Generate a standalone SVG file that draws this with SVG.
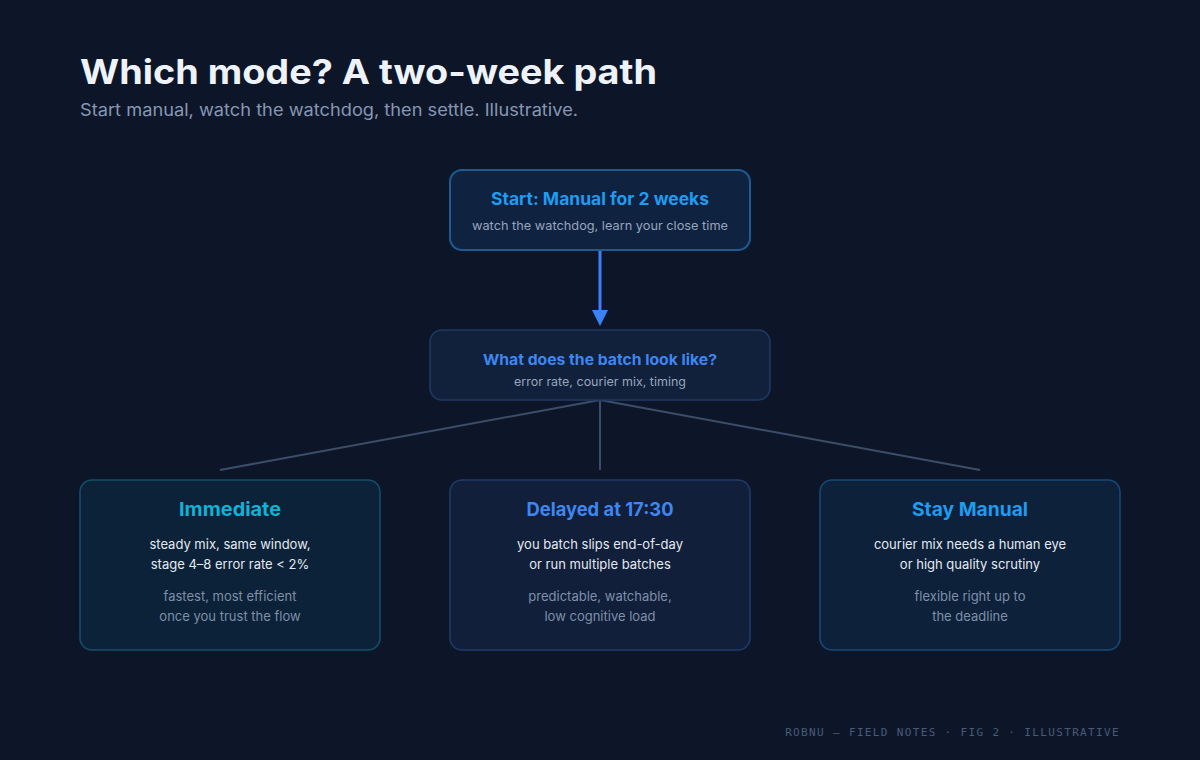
<svg xmlns="http://www.w3.org/2000/svg" width="1200" height="760" viewBox="0 0 1200 760">
<defs>
<style>
.t{font-family:Inter,"Noto Sans","Liberation Sans",sans-serif}
.h{font-weight:700;text-anchor:middle}
.s{font-size:12px;fill:#97a6bd;text-anchor:middle}
.b{font-size:13px;fill:#e3e9f2;text-anchor:middle}
.m{font-size:13px;fill:#7f8fa8;text-anchor:middle}
.edge{stroke:#3b4d69;stroke-width:2;fill:none}
</style>
</defs>
<rect width="1200" height="760" fill="#0d1628"/>
<text class="t" x="80" y="84" font-size="34" font-weight="700" fill="#eef3fb" textLength="577" lengthAdjust="spacingAndGlyphs">Which mode? A two-week path</text>
<text class="t" x="80" y="116" font-size="17" fill="#8797b3" textLength="498" lengthAdjust="spacingAndGlyphs">Start manual, watch the watchdog, then settle. Illustrative.</text>

<g id="connectors">
<line x1="600" y1="250" x2="600" y2="312" stroke="#3b82f6" stroke-width="3"/>
<path d="M592,310 L608,310 L600,326 Z" fill="#3b82f6"/>
<line class="edge" x1="600" y1="400" x2="220" y2="470"/>
<line class="edge" x1="600" y1="400" x2="600" y2="470"/>
<line class="edge" x1="600" y1="400" x2="980" y2="470"/>
</g>

<g id="start">
<rect x="450" y="170" width="300" height="80" rx="12" fill="#0f2240" stroke="#1d5b92" stroke-width="2"/>
<text class="t h" x="600" y="205" font-size="17" fill="#1f9bf0" textLength="218" lengthAdjust="spacingAndGlyphs">Start: Manual for 2 weeks</text>
<text class="t s" x="600" y="230" textLength="256" lengthAdjust="spacingAndGlyphs">watch the watchdog, learn your close time</text>
</g>

<g id="decision">
<rect x="430" y="330" width="340" height="70" rx="12" fill="#11203b" stroke="#1f3a66" stroke-width="1.5"/>
<text class="t h" x="600" y="365" font-size="15" fill="#3e86f0" textLength="234" lengthAdjust="spacingAndGlyphs">What does the batch look like?</text>
<text class="t s" x="600" y="386" textLength="172" lengthAdjust="spacingAndGlyphs">error rate, courier mix, timing</text>
</g>

<g id="immediate">
<rect x="80" y="480" width="300" height="170" rx="12" fill="#0c2238" stroke="#13506e" stroke-width="1.5"/>
<text class="t h" x="230" y="516" font-size="19" fill="#0fb3d6" textLength="102" lengthAdjust="spacingAndGlyphs">Immediate</text>
<text class="t b" x="230" y="549">steady mix, same window,</text>
<text class="t b" x="230" y="569">stage 4–8 error rate &lt; 2%</text>
<text class="t m" x="230" y="601">fastest, most efficient</text>
<text class="t m" x="230" y="621">once you trust the flow</text>
</g>

<g id="delayed">
<rect x="450" y="480" width="300" height="170" rx="12" fill="#111f3a" stroke="#1f3b6b" stroke-width="1.5"/>
<text class="t h" x="600" y="516" font-size="19" fill="#3e86f0" textLength="147" lengthAdjust="spacingAndGlyphs">Delayed at 17:30</text>
<text class="t b" x="600" y="549">you batch slips end-of-day</text>
<text class="t b" x="600" y="569">or run multiple batches</text>
<text class="t m" x="600" y="601">predictable, watchable,</text>
<text class="t m" x="600" y="621">low cognitive load</text>
</g>

<g id="manual">
<rect x="820" y="480" width="300" height="170" rx="12" fill="#0d213a" stroke="#174a78" stroke-width="1.5"/>
<text class="t h" x="970" y="516" font-size="19" fill="#1f9bf0" textLength="116" lengthAdjust="spacingAndGlyphs">Stay Manual</text>
<text class="t b" x="970" y="549">courier mix needs a human eye</text>
<text class="t b" x="970" y="569">or high quality scrutiny</text>
<text class="t m" x="970" y="601">flexible right up to</text>
<text class="t m" x="970" y="621">the deadline</text>
</g>

<text x="1120" y="736" font-family="'DejaVu Sans Mono','Liberation Mono',monospace" font-size="11" letter-spacing="1.35" fill="#4a5a77" text-anchor="end">ROBNU — FIELD NOTES · FIG 2 · ILLUSTRATIVE</text>
</svg>
